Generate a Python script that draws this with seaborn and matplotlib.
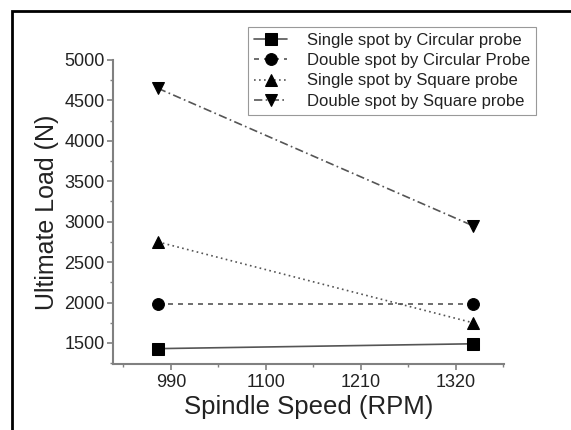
import numpy as np
import pandas as pd
import matplotlib
matplotlib.use("Agg")
import matplotlib.pyplot as plt
import matplotlib.patches as mpatches
import seaborn as sns

# Data
speeds = [975, 1340]
single_circular = [1430, 1490]
double_circular = [1985, 1985]
single_square = [2750, 1750]
double_square = [4650, 2950]

series_names = [
    "Single spot by Circular probe",
    "Double spot by Circular Probe",
    "Single spot by Square probe",
    "Double spot by Square probe",
]
series_values = [single_circular, double_circular, single_square, double_square]
markers = ["s", "o", "^", "v"]
linestyles = ["-", (0, (3, 3)), (0, (1, 2)), (0, (5, 2, 1, 2))]

x_ticks = [990, 1100, 1210, 1320]
y_ticks = [1500, 2000, 2500, 3000, 3500, 4000, 4500, 5000]

sns.set_style("white")
plt.rcParams["font.family"] = ["Liberation Sans", "DejaVu Sans"]

fig = plt.figure(figsize=(5.71, 4.30), dpi=100)
W, H = 571, 430
ax = fig.add_axes([113 / W, 1 - 364 / H, (504 - 113) / W, (364 - 60) / H])

for name, vals, mk, ls in zip(series_names, series_values, markers, linestyles):
    df = pd.DataFrame({"speed": speeds, "load": vals})
    sns.lineplot(data=df, x="speed", y="load", ax=ax, color="#555555",
                 linewidth=1.2, linestyle=ls, label=name,
                 marker=mk, markersize=8.5, markerfacecolor="black",
                 markeredgecolor="black")

ax.set_xlim(923, 1376)
ax.set_ylim(1240, 5000)
ax.set_xticks(x_ticks)
ax.set_xticks([935, 1045, 1155, 1265, 1375], minor=True)
ax.set_yticks(y_ticks)
ax.set_yticks(np.arange(1250, 5000, 500), minor=True)

for side in ["top", "right"]:
    ax.spines[side].set_visible(False)
for side in ["left", "bottom"]:
    ax.spines[side].set_color("#808080")
    ax.spines[side].set_linewidth(1.5)

ax.tick_params(axis="both", which="major", direction="out", length=4,
               width=1.2, color="#808080", labelsize=13, labelcolor="#222222")
ax.tick_params(axis="both", which="minor", direction="out", length=2.5,
               width=1.0, color="#808080")
ax.tick_params(axis="x", bottom=True, which="both", pad=3)
ax.tick_params(axis="y", left=True, which="both", pad=2)

ax.set_xlabel("Spindle Speed (RPM)", fontsize=18.5, color="#222222", labelpad=3)
ax.set_ylabel("Ultimate Load (N)", fontsize=18, color="#222222", labelpad=4)

leg = ax.legend(loc="upper left", bbox_to_anchor=(248 / W, 1 - 27 / H),
                bbox_transform=fig.transFigure, fontsize=12, frameon=True,
                fancybox=False, framealpha=1, edgecolor="#999999",
                handlelength=2.0, handletextpad=1.2, labelspacing=0.32,
                borderpad=0.35, borderaxespad=0)
leg.get_frame().set_linewidth(0.8)
for t in leg.get_texts():
    t.set_color("#222222")

# outer frame (left and top edges visible)
frame = mpatches.Rectangle((12 / W, -0.1), 1.1, (H - 11) / H + 0.1,
                           transform=fig.transFigure, fill=False,
                           edgecolor="black", linewidth=2, clip_on=False)
fig.add_artist(frame)

fig.savefig("out.png", dpi=100)
